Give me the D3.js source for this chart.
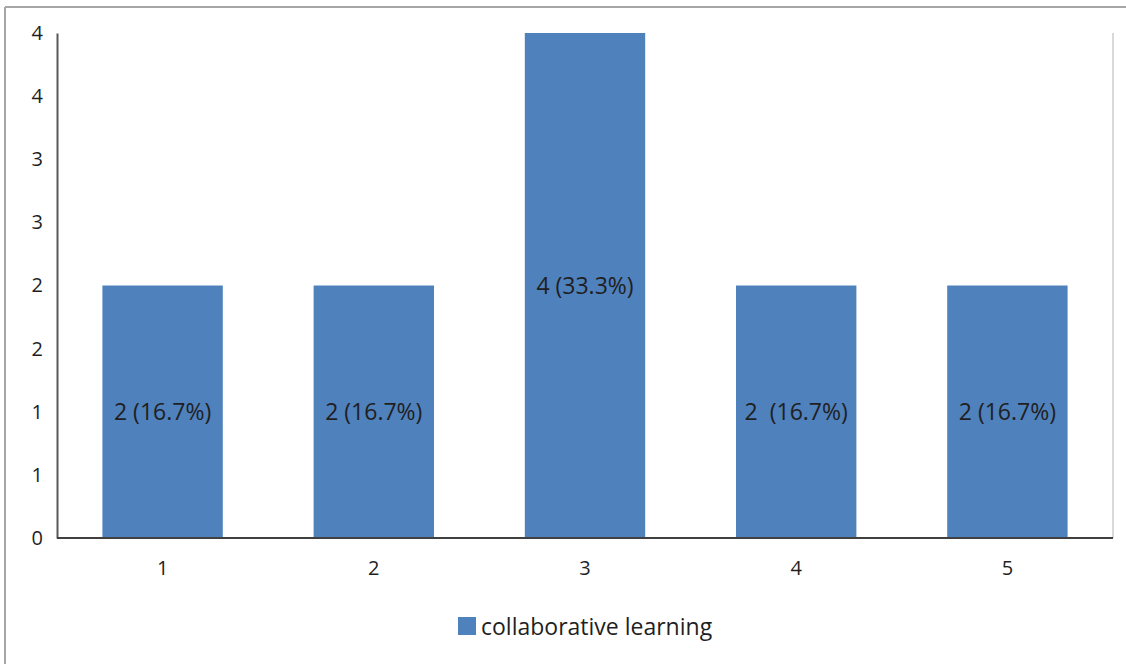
<!DOCTYPE html>
<html>
<head>
<meta charset="utf-8">
<script src="https://cdn.jsdelivr.net/npm/d3@7"></script>
<style>
  html, body { margin: 0; padding: 0; background: #fff; }
  svg { display: block; }
  text { font-family: "Open Sans", "DejaVu Sans", sans-serif; fill: #1f1f1f; }
</style>
</head>
<body>
<svg id="chart" width="1126" height="664"></svg>
<script>
// Responses per rating for the "collaborative learning" item
const categories = ["1", "2", "3", "4", "5"];
const counts = [2, 2, 4, 2, 2];
const barLabels = ["2 (16.7%)", "2 (16.7%)", "4 (33.3%)", "2  (16.7%)", "2 (16.7%)"];
const yTickValues = [0, 0.5, 1, 1.5, 2, 2.5, 3, 3.5, 4];
const yTickLabels = ["0", "1", "1", "2", "2", "3", "3", "4", "4"];
const seriesName = "collaborative learning";

const svg = d3.select("#chart");
const W = 1126, H = 664;
const plot = { left: 57, right: 1113, top: 33, bottom: 538 };
const barColor = "#4f81bd";

// outer frame (only top and left edges are visible in the canvas)
svg.append("line").attr("x1", 5).attr("x2", W).attr("y1", 7).attr("y2", 7)
  .attr("stroke", "#a6a6a6").attr("stroke-width", 2);
svg.append("line").attr("x1", 5).attr("x2", 5).attr("y1", 7).attr("y2", H)
  .attr("stroke", "#a6a6a6").attr("stroke-width", 2);

const x = d3.scaleBand().domain(categories)
  .range([plot.left, plot.right]).paddingInner(0.43).paddingOuter(0.215);
const y = d3.scaleLinear().domain([0, 4]).range([plot.bottom, plot.top]);

// right edge of plot area
svg.append("line").attr("x1", plot.right).attr("x2", plot.right)
  .attr("y1", plot.top).attr("y2", plot.bottom)
  .attr("stroke", "#d9d9d9").attr("stroke-width", 2);

// bars
svg.append("g").selectAll("rect").data(counts).join("rect")
  .attr("x", (d, i) => x(categories[i]))
  .attr("y", d => y(d))
  .attr("width", x.bandwidth())
  .attr("height", d => y(0) - y(d))
  .attr("fill", barColor);

// value labels centred in each bar
svg.append("g").selectAll("text").data(counts).join("text")
  .attr("x", (d, i) => x(categories[i]) + x.bandwidth() / 2)
  .attr("y", d => y(d / 2))
  .attr("dy", "0.35em")
  .attr("text-anchor", "middle")
  .style("font-size", "23px")
  .style("white-space", "pre")
  .attr("xml:space", "preserve")
  .text((d, i) => barLabels[i]);

// y axis
const yAxis = d3.axisLeft(y).tickValues(yTickValues)
  .tickFormat((d, i) => yTickLabels[i]).tickSize(0).tickPadding(14);
const gy = svg.append("g").attr("transform", `translate(${plot.left},0)`).call(yAxis);
gy.attr("font-size", null).attr("font-family", null);
gy.select(".domain").attr("stroke", "#595959").attr("stroke-width", 2);
gy.selectAll("text").style("font-size", "20px").attr("fill", "#1f1f1f");

// x axis
const xAxis = d3.axisBottom(x).tickSize(0).tickPadding(23);
const gx = svg.append("g").attr("transform", `translate(0,${plot.bottom})`).call(xAxis);
gx.attr("font-size", null).attr("font-family", null);
gx.select(".domain").attr("stroke", "#404040").attr("stroke-width", 2)
  .attr("d", `M${plot.left},0H${plot.right}`);
gx.selectAll("text").style("font-size", "20px").attr("fill", "#1f1f1f");

// legend
const legend = svg.append("g").attr("transform", "translate(458,617)");
legend.append("rect").attr("width", 18).attr("height", 18).attr("fill", barColor);
legend.append("text").attr("x", 23).attr("y", 10).attr("dy", "0.35em")
  .style("font-size", "23px").text(seriesName);
</script>
</body>
</html>
